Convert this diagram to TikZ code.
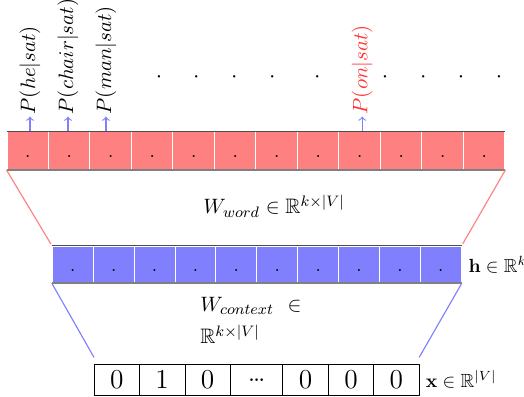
\documentclass[tikz,border=0pt]{standalone}
\usepackage{amssymb}
\usetikzlibrary{positioning,calc}
\tikzset{
	cell/.style={draw=white, line width=0.5pt, inner sep=0pt, text height=7.6pt, text depth=0pt},
	redcell/.style={cell, fill=red!50, minimum width=0.767cm, minimum height=0.699cm},
	bluecell/.style={cell, fill=blue!50, minimum width=0.756cm, minimum height=0.68cm},
	onehot/.style={draw, inner sep=0pt, outer sep=0pt, minimum width=0.84cm, minimum height=0.567cm, font=\Large},
	prob/.style={rotate=90, anchor=west, inner sep=1pt, font=\fontsize{11}{13}\selectfont},
	note/.style={font=\fontsize{11}{13}\selectfont},
}
\begin{document}
\begin{tikzpicture}[>=to, line join=round]
			\useasboundingbox (0,0) rectangle (9.686,7.32);
			
			% Hàng đầu ra
			\foreach \i in {1,...,12}
				\node[redcell] (r\i) at ({0.129+0.767*(\i-0.5)},4.536) {.};
			\draw[black!70, line width=0.7pt] (r1.north west) -- (r12.north east);
			\draw[black!50, line width=1pt] (r1.south west) -- (r12.south east);
			
			% Hàng ẩn
			\foreach \i in {1,...,10}
				\node[bluecell] (b\i) at ({0.967+0.756*(\i-0.5)},2.433) {.};
			\draw[black!70, line width=0.7pt] (b1.north west) -- (b10.north east);
			\draw[black!50, line width=1pt] (b1.south west) -- (b10.south east);
			
			% Vectơ one-hot
			\node[onehot] (x1) at (2.158,0.3) {0};
			\node[onehot, right=0pt of x1] (x2) {1};
			\node[onehot, right=0pt of x2] (x3) {0};
			\node[onehot, right=0pt of x3, minimum width=0.97cm] (x4) {\ldots};
			\node[onehot, right=0pt of x4] (x5) {0};
			\node[onehot, right=0pt of x5] (x6) {0};
			\node[onehot, right=0pt of x6] (x7) {0};
			
			% Các đường nối
			\coordinate (c1) at ($(x1.north west)+(0,0.13)$);
			\coordinate (c2) at ($(x7.north east)+(0,0.13)$);
			\draw[red!50, line width=0.6pt, shorten >=1pt] (r1.south west) -- (b1.north west);
			\draw[red!50, line width=0.6pt, shorten >=1pt] (r12.south east) -- (b10.north east);
			\draw[blue!50, line width=0.6pt] (b1.south west) -- (c1);
			\draw[blue!50, line width=0.6pt] (b10.south east) -- (c2);
			
			% Xác suất đầu ra
			\node[prob] (p1) at ($(r1.north)+(0.042,0.27)$) {$P(he|sat)$};
			\node[prob] (p2) at ($(r2.north)+(-0.023,0.27)$) {$P(chair|sat)$};
			\node[prob] (p3) at ($(r3.north)+(-0.088,0.27)$) {$P(man|sat)$};
			\node[prob, text=red!80] (p9) at ($(r9.north)+(0.047,0.27)$) {$P(on|sat)$};
			\foreach \p/\r in {p1/r1, p2/r2, p3/r3, p9/r9}
				\draw[->, blue!50, line width=0.6pt] (\p.west |- \r.north) -- (\p.west);
			
			% Các dấu chấm
			\foreach \x [count=\k] in {2.939,3.628,4.331,5.033,5.865,7.116,7.824,8.521,9.224}
				\node[inner sep=0pt, font=\large] (d\k) at (\x,5.891) {$\cdot$};
			
			% Nhãn
			\node[note] (ww) at (5.068,3.51) {$W_{word}\in\mathbb{R}^{k\times|V|}$};
			\node[note, align=left, anchor=north west, inner sep=0pt] (wc) at (3.697,1.83)
				{$W_{context}$ \ $\in$\\[4pt]$\mathbb{R}^{k\times|V|}$};
			\node[right=0pt of b10] (hl) {$\mathbf{h}\in\mathbb{R}^k$};
			\node[right=0pt of x7] (xl) {$\mathbf{x}\in\mathbb{R}^{|V|}$};
			
		\end{tikzpicture}
\end{document}
